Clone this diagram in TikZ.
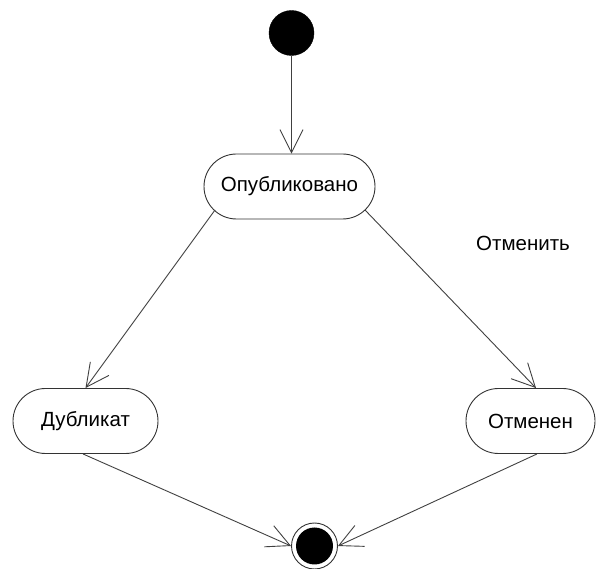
\documentclass[tikz,border=0pt]{standalone}
\usepackage{fontspec}
\setmainfont{Liberation Sans}
\usetikzlibrary{arrows.meta,calc,shapes.misc}
\begin{document}
\begin{tikzpicture}[x=1pt,y=-1pt,
  line/.style={draw=black!75, line width=0.9pt},
  arr/.style={line, -{Straight Barb[length=23pt,width=23pt,line width=0.9pt]}},
  state/.style={rounded rectangle, draw=black!80, line width=0.9pt, minimum height=65pt, inner sep=0pt, font=\fontsize{20.5}{24}\selectfont},
  lbl/.style={font=\fontsize{20.5}{24}\selectfont}]
\useasboundingbox (0,0) rectangle (598,569);
\node[circle, fill=black, draw=black, minimum size=45pt, inner sep=0pt] (init) at (291.5,33) {};
\node[state, minimum width=171pt] (pub) at (289.5,186.5) {Опубликовано};
\node[state, minimum width=145pt] (dub) at (85.5,421) {Дубликат};
\node[state, minimum width=129pt] (can) at (530.5,421) {Отменен};
\node[circle, draw=black!80, line width=0.9pt, minimum size=46pt, inner sep=0pt] (fin) at (314.5,546) {};
\node[circle, fill=black, minimum size=37pt, inner sep=0pt] (finin) at (fin) {};
\node[lbl] (lab) at (523,243) {Отменить};
\coordinate (pubL) at ($(pub.center)+(-74.5,23.5)$);
\coordinate (pubR) at ($(pub.center)+(75.5,23.5)$);
\coordinate (dubB) at ($(dub.south)+(-2.5,0)$);
\coordinate (canB) at ($(can.south)+(6.5,0)$);
\coordinate (canT) at ($(can.north)+(5.5,0)$);
\draw[arr] (init) -- (init |- pub.north);
\draw[arr] (pubL) -- (dub.north);
\draw[arr] (pubR) -- (canT);
\draw[arr] (dubB) -- (fin.west);
\draw[arr] (canB) -- (fin.east);
\end{tikzpicture}
\end{document}
